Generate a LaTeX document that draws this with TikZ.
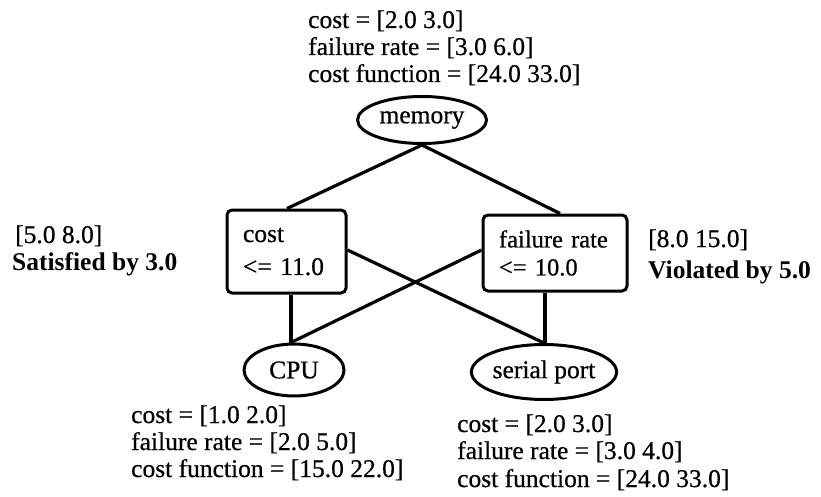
\documentclass[tikz,border=0pt]{standalone}
\usepackage{fontspec}
\setmainfont{Liberation Serif}
\newfontfamily\hvfont{Liberation Serif}[FakeBold=0.6]
\usetikzlibrary{shapes.geometric}
\tikzset{
  every picture/.style={x=1pt,y=-1pt},
  txt/.style={font=\fontsize{25.5}{28}\selectfont\hvfont, inner sep=0pt, anchor=base west},
  bold/.style={txt, font=\fontsize{25.5}{28}\selectfont\bfseries},
  comp/.style={ellipse, draw, line width=3pt, inner sep=0pt, font=\fontsize{25.5}{28}\selectfont\hvfont},
  cons/.style={rectangle, draw, line width=3pt, rounded corners=5pt, align=left, inner ysep=0pt},
  link/.style={line width=3.2pt},
}
\begin{document}
\begin{tikzpicture}
\useasboundingbox (0,0) rectangle (821,497);
% component nodes
\node[comp, minimum width=129pt, minimum height=47pt] (mem) at (422,120) {memory};
\node[comp, minimum width=100pt, minimum height=52pt] (cpu) at (294,370) {CPU};
\node[comp, minimum width=138pt, minimum height=55pt] (ser) at (544,372) {serial port};
% constraint boxes
\node[cons, minimum width=119pt, minimum height=83pt, text width=87pt, inner xsep=16pt,
      font=\fontsize{25.5}{33}\selectfont\hvfont] (cc) at (286.5,251.5) {cost\\<= 11.0};
\node[cons, minimum width=144pt, minimum height=76pt, text width=112pt, inner xsep=16pt,
      font=\fontsize{24.5}{28}\selectfont\hvfont] (fc) at (555,253) {failure rate\\<= 10.0};
% attribute labels of memory
\node[txt] (m1) at (308,28) {cost = [2.0 3.0]};
\node[txt] (m2) at (308,55) {failure rate = [3.0 6.0]};
\node[txt] (m3) at (308,82) {cost function = [24.0 33.0]};
% attribute labels of CPU
\node[txt] (c1) at (131,423) {cost = [1.0 2.0]};
\node[txt] (c2) at (131,450) {failure rate = [2.0 5.0]};
\node[txt] (c3) at (131,477) {cost function = [15.0 22.0]};
% attribute labels of serial port
\node[txt] (s1) at (457,432) {cost = [2.0 3.0]};
\node[txt] (s2) at (457,459) {failure rate = [3.0 4.0]};
\node[txt] (s3) at (457,487) {cost function = [24.0 33.0]};
% constraint results
\node[txt] (rc1) at (15,243) {[5.0 8.0]};
\node[bold] (rc2) at (12,270) {Satisfied by 3.0};
\node[txt] (rf1) at (648,247) {[8.0 15.0]};
\node[bold] (rf2) at (648,278) {Violated by 5.0};
% connectors
\draw[link] (mem.south) -- (cc.north -| 287,0);
\draw[link] (mem.south) -- (fc.north -| 560,0);
\draw[link] (cc.south -| 291,0) -- (cpu.north -| 291,0);
\draw[link] (cc.east |- 0,250) -- (ser.north);
\draw[link] (fc.west |- 0,250) -- (cpu.north -| 291,0);
\draw[link] (fc.south -| 545,0) -- (ser.north -| 545,0);
\end{tikzpicture}
\end{document}
